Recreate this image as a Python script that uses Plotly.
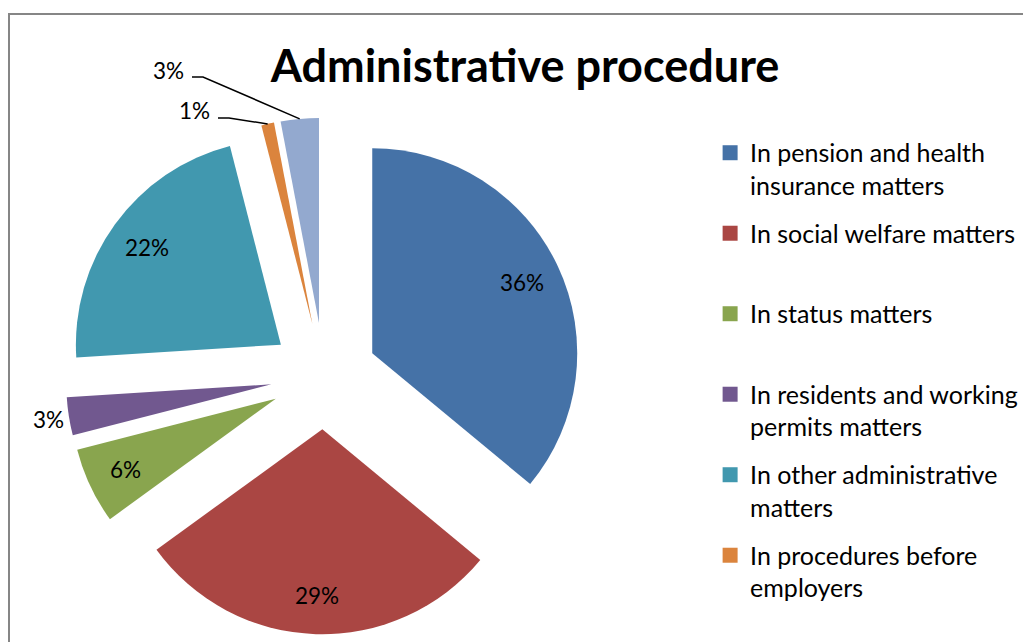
import math
import plotly.graph_objects as go

categories = [
    "In pension and health insurance matters",
    "In social welfare matters",
    "In status matters",
    "In residents and working permits matters",
    "In other administrative matters",
    "In procedures before employers",
    "Other procedures",
]
legend_labels = [
    "In pension and health<br>insurance matters",
    "In social welfare matters<br> ",
    "In status matters<br> ",
    "In residents and working<br>permits matters",
    "In other administrative<br>matters",
    "In procedures before<br>employers",
]
values = [36, 29, 6, 3, 22, 1, 3]
colors = ["#4572A7", "#AA4643", "#89A54E", "#71588F", "#4198AF", "#DB843D", "#93A9CF"]
# label placement style per slice: inside / outside / leader
label_modes = ["inside", "inside", "inside", "outside", "inside", "leader", "leader"]

W, H = 1031, 642
FONT = "Lato"
PULL = 0.26

# pie geometry (figure pixels)
CX, CY = 316.0, 368.0
HALF = 258.3
dom_x = [(CX - HALF) / W, (CX + HALF) / W]
dom_y = [1 - (CY + HALF) / H, 1 - (CY - HALF) / H]
R = min(dom_x[1] - dom_x[0], 1) * W
R = min((dom_x[1] - dom_x[0]) * W, (dom_y[1] - dom_y[0]) * H) / (2 * (1 + PULL))


def px2paper(x, y):
    return x / W, 1 - y / H


fig = go.Figure()
fig.add_trace(go.Pie(
    labels=categories,
    values=values,
    marker=dict(colors=colors, line=dict(width=0)),
    sort=False,
    direction="clockwise",
    rotation=0,
    pull=[PULL] * len(values),
    textinfo="none",
    domain=dict(x=dom_x, y=dom_y),
    showlegend=False,
    hoverinfo="label+percent",
))

for i, (lab, col) in enumerate(zip(legend_labels, colors[:6])):
    fig.add_trace(go.Scatter(
        x=[None], y=[None], mode="markers", name=lab,
        legendgroup=f"g{i}",
        marker=dict(symbol="square", size=15, color=col),
        showlegend=True,
    ))

# labels computed from slice geometry
total = sum(values)
annotations = []
shapes = []
leader_anchor = {5: (204, 103), 6: (178, 62)}  # label right/middle points (figure px)
label_font = dict(family=FONT, size=22.5, color="black")
cum = 0
for i, v in enumerate(values):
    mid = (cum + v / 2) / total * 2 * math.pi
    cum += v
    dx, dy = math.sin(mid), -math.cos(mid)
    ax, ay = CX + PULL * R * dx, CY + PULL * R * dy  # pulled apex
    text = f"{round(v / total * 100)}%"
    mode = label_modes[i]
    if mode == "inside":
        f = 0.81
        px, py = px2paper(ax + f * R * dx, ay + f * R * dy)
        annotations.append(dict(x=px, y=py, xref="paper", yref="paper", text=text,
                                showarrow=False, xanchor="center", yanchor="middle",
                                font=label_font))
    elif mode == "outside":
        f = 1.10
        px, py = px2paper(ax + f * R * dx, ay + f * R * dy)
        annotations.append(dict(x=px, y=py, xref="paper", yref="paper", text=text,
                                showarrow=False, xanchor="center", yanchor="middle",
                                font=label_font))
    else:
        lx, ly = leader_anchor[i]
        px, py = px2paper(lx, ly)
        annotations.append(dict(x=px, y=py, xref="paper", yref="paper", text=text,
                                showarrow=False, xanchor="right", yanchor="middle",
                                font=label_font))
        ex, ey = ax + R * dx, ay + R * dy
        p0 = px2paper(lx + 6, ly + 7)
        p1 = px2paper(lx + 17, ly + 7)
        p2 = px2paper(ex, ey)
        shapes.append(dict(type="path", xref="paper", yref="paper",
                           path=f"M {p0[0]},{p0[1]} L {p1[0]},{p1[1]} L {p2[0]},{p2[1]}",
                           line=dict(color="black", width=1.5)))

shapes.append(dict(
    type="rect", xref="paper", yref="paper",
    x0=1 / W, x1=1.05, y0=-0.05, y1=1 - 6 / H,
    line=dict(color="#868686", width=2),
    fillcolor="rgba(0,0,0,0)",
    layer="below",
))

fig.update_layout(
    width=W, height=H,
    margin=dict(l=0, r=0, t=0, b=0, autoexpand=False),
    paper_bgcolor="white",
    plot_bgcolor="white",
    xaxis=dict(visible=False),
    yaxis=dict(visible=False),
    title=dict(
        text="<b>Administrative procedure</b>",
        x=0.5015, xanchor="center",
        y=0.9097, yanchor="middle",
        font=dict(family=FONT, size=45, color="black"),
    ),
    legend=dict(
        x=0.681, xanchor="left",
        y=0.810, yanchor="top",
        valign="top",
        font=dict(family=FONT, size=25, color="black"),
        bgcolor="rgba(0,0,0,0)",
        itemwidth=30,
        tracegroupgap=12.5,
    ),
    annotations=annotations,
    shapes=shapes,
)

fig.write_html("out.html")
